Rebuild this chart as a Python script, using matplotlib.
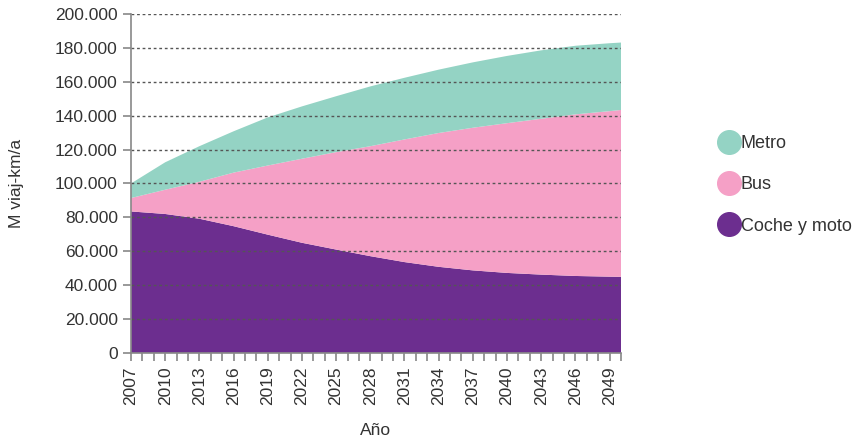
import matplotlib
matplotlib.use('Agg')
import matplotlib.pyplot as plt
from matplotlib.lines import Line2D
from matplotlib.ticker import FuncFormatter

plt.rcParams['font.family'] = ['Liberation Sans', 'DejaVu Sans']

# valores (M viaj-km/a)
years = [2007, 2010, 2013, 2016, 2019, 2022, 2025, 2028, 2031, 2034, 2037, 2040, 2043, 2046, 2049, 2050]
coche = [83500, 82000, 79200, 74800, 69800, 65000, 61000, 57100, 53600, 50800, 48700, 47200, 46200, 45400, 45000, 44900]
bus = [7900, 14300, 21800, 31600, 40800, 49600, 57500, 64900, 72400, 79000, 84200, 88400, 92000, 95400, 97700, 98500]
metro = [8600, 16200, 21000, 24400, 28400, 30900, 33000, 35300, 36400, 37400, 38600, 39700, 40400, 40500, 40100, 39800]

labels = ['Coche y moto', 'Bus', 'Metro']
colors = ['#6c2e8f', '#f5a0c6', '#94d3c4']
txt = '#333333'

fig = plt.figure(figsize=(8.56, 4.4), dpi=100)
ax = fig.add_axes([0.153, 0.198, 0.5725, 0.770])

ax.stackplot(years, coche, bus, metro, colors=colors, linewidth=0)

ax.set_xlim(2007, 2050)
ax.set_ylim(0, 200000)

ax.set_yticks(range(0, 200001, 20000))
ax.yaxis.set_major_formatter(FuncFormatter(lambda v, p: f'{int(v):,}'.replace(',', '.')))
all_years = list(range(2007, 2051))
ax.set_xticks(all_years)
ax.set_xticklabels([str(y) if (y - 2007) % 3 == 0 else '' for y in all_years], rotation=90)

ax.set_axisbelow(False)
ax.yaxis.grid(True, linestyle=(0, (2, 2)), color='#555555', linewidth=1)
ax.xaxis.grid(False)

for s in ['top', 'right']:
    ax.spines[s].set_visible(False)
for s in ['left', 'bottom']:
    ax.spines[s].set_color('#888888')
    ax.spines[s].set_linewidth(1.2)
    ax.spines[s].set_zorder(3)
ax.tick_params(colors='#888888', labelcolor=txt, labelsize=12.5, length=6, width=1.2)

ax.set_xlabel('Año', fontsize=12.5, color=txt, labelpad=13)
ax.set_ylabel('M viaj-km/a', fontsize=12.5, color=txt, labelpad=22)

handles = [Line2D([], [], marker='o', linestyle='', markersize=17, markerfacecolor=c, markeredgecolor=c)
           for c in colors[::-1]]
fig.legend(handles, labels[::-1], loc='center left', bbox_to_anchor=(0.82, 0.58), frameon=False,
           fontsize=13, labelcolor=txt, handletextpad=0.05, labelspacing=1.35, handlelength=1.2)

fig.savefig('out.png', dpi=100)
